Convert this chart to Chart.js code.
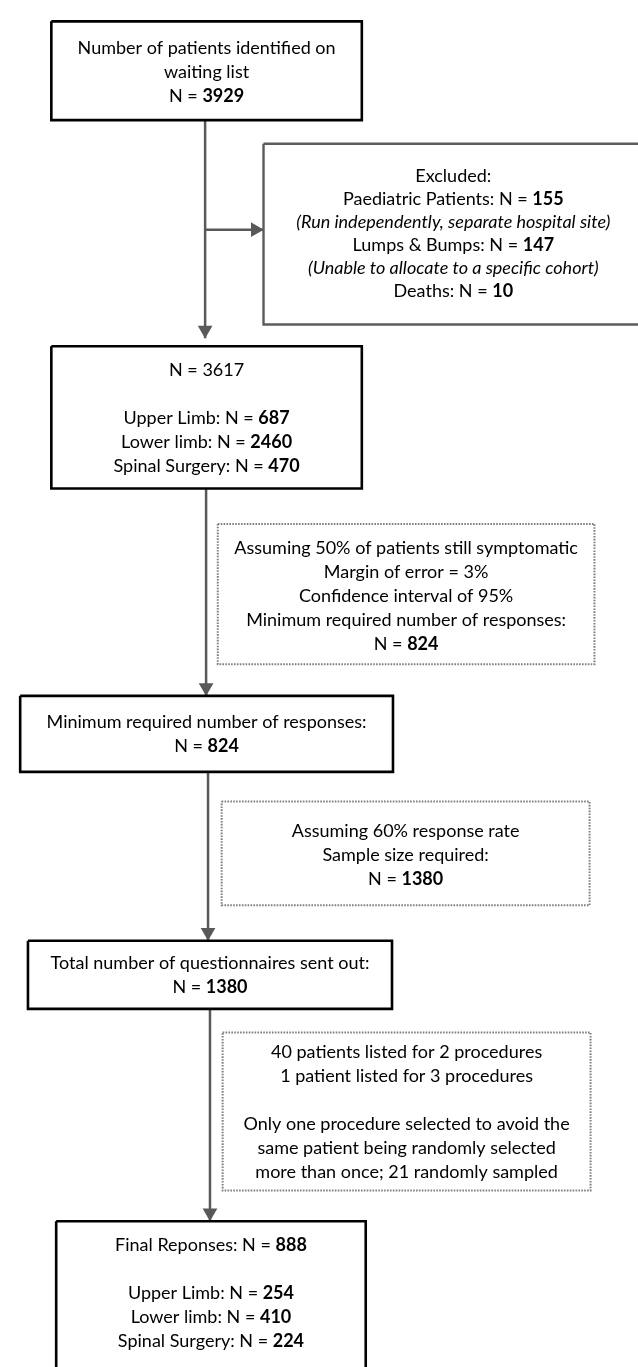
<!DOCTYPE html>
<html>
<head>
<meta charset="utf-8">
<script src="https://cdn.jsdelivr.net/npm/chart.js@4.4.1/dist/chart.umd.min.js"></script>
<style>
html, body { margin: 0; padding: 0; background: #fff; }
#wrap { width: 638px; height: 1367px; position: relative; }
</style>
</head>
<body>
<div id="wrap"><canvas id="flow"></canvas></div>
<script>
// --- flow data ---
const identifiedTotal = 3929;
const excludedGroups = ['Paediatric Patients', 'Lumps & Bumps', 'Deaths'];
const excludedCounts = [155, 147, 10];
const excludedNotes = ['(Run independently, separate hospital site)', '(Unable to allocate to a specific cohort)', null];
const eligibleTotal = 3617;
const cohortLabels = ['Upper Limb', 'Lower limb', 'Spinal Surgery'];
const eligibleCounts = [687, 2460, 470];
const symptomaticPct = 50;
const marginOfErrorPct = 3;
const confidencePct = 95;
const minResponses = 824;
const responseRatePct = 60;
const sampleSize = 1380;
const patientsTwoProcedures = 40;
const patientsThreeProcedures = 1;
const randomlySampled = 21;
const finalResponses = 888;
const finalCounts = [254, 410, 224];

// text lines, **x** = bold, leading "_" = italic
const identifiedLines = ['Number of patients identified on', 'waiting list', `N = **${identifiedTotal}**`];
const excludedLines = ['Excluded:'];
excludedGroups.forEach((g, i) => {
    excludedLines.push(`${g}: N = **${excludedCounts[i]}**`);
    if (excludedNotes[i]) excludedLines.push('_' + excludedNotes[i]);
});
const eligibleLines = [`N = ${eligibleTotal}`, ''].concat(cohortLabels.map((c, i) => `${c}: N = **${eligibleCounts[i]}**`));
const powerLines = [
    `Assuming ${symptomaticPct}% of patients still symptomatic`,
    `Margin of error = ${marginOfErrorPct}%`,
    `Confidence interval of ${confidencePct}%`,
    'Minimum required number of responses:',
    `N = **${minResponses}**`
];
const minLines = ['Minimum required number of responses:', `N = **${minResponses}**`];
const rateLines = [`Assuming ${responseRatePct}% response rate`, 'Sample size required:', `N = **${sampleSize}**`];
const sentLines = ['Total number of questionnaires sent out:', `N = **${sampleSize}**`];
const dupLines = [
    `${patientsTwoProcedures} patients listed for 2 procedures`,
    `${patientsThreeProcedures} patient listed for 3 procedures`,
    '',
    'Only one procedure selected to avoid the',
    'same patient being randomly selected',
    `more than once; ${randomlySampled} randomly sampled`
];
const finalLines = [`Final Reponses: N = **${finalResponses}**`, ''].concat(cohortLabels.map((c, i) => `${c}: N = **${finalCounts[i]}**`));

// --- layout (page units) ---
const boxes = [
    { x0: 44, x1: 363, y0: 13, y1: 113, kind: 'main', lines: identifiedLines, lh: 24, ty: 64 },
    { x0: 262, x1: 652, y0: 137, y1: 320, kind: 'excl', lines: excludedLines, lh: 23 },
    { x0: 44, x1: 363, y0: 342, y1: 486, kind: 'main', lines: eligibleLines, lh: 24, ty: 415 },
    { x0: 215, x1: 602, y0: 522, y1: 664, kind: 'note', lines: powerLines, lh: 24, ty: 595 },
    { x0: 12, x1: 395, y0: 696, y1: 773, kind: 'main', lines: minLines, lh: 24 },
    { x0: 219, x1: 597, y0: 803, y1: 908, kind: 'note', lines: rateLines, lh: 24, ty: 857 },
    { x0: 20, x1: 394, y0: 944, y1: 1013, kind: 'main', lines: sentLines, lh: 24 },
    { x0: 220, x1: 598, y0: 1037, y1: 1197, kind: 'note', lines: dupLines, lh: 24, ty: 1118 },
    { x0: 49, x1: 367, y0: 1228, y1: 1390, kind: 'main', lines: finalLines, lh: 24, ty: 1301 }
];
const connectors = [
    { from: [202, 113], to: [202, 334], dir: 'down' },
    { from: [202, 224], to: [262, 224], dir: 'right' },
    { from: [203, 486], to: [203, 696], dir: 'down' },
    { from: [205, 773], to: [205, 944], dir: 'down' },
    { from: [207, 1013], to: [207, 1228], dir: 'down' }
];

const styles = {
    main: { color: '#000', width: 2.6, dash: [] },
    excl: { color: '#5c5c5c', width: 2.4, dash: [] },
    note: { color: '#7f7f7f', width: 2, dash: [1.6, 1.3] }
};
const lineGray = '#595959';
const arrowR = 8.5;
const fontFamily = 'Lato, "Open Sans", sans-serif';
const fontSize = 18;

const datasets = [];
boxes.forEach(b => {
    const s = styles[b.kind];
    datasets.push({
        type: 'scatter', showLine: true,
        data: [{x: b.x0, y: b.y0}, {x: b.x1, y: b.y0}, {x: b.x1, y: b.y1}, {x: b.x0, y: b.y1}, {x: b.x0, y: b.y0}],
        borderColor: s.color, borderWidth: s.width, borderDash: s.dash,
        borderJoinStyle: 'miter', borderCapStyle: 'butt',
        pointRadius: 0, fill: false, tension: 0, clip: false
    });
});
connectors.forEach(c => {
    datasets.push({
        type: 'scatter', showLine: true,
        data: [{x: c.from[0], y: c.from[1]}, {x: c.to[0], y: c.to[1]}],
        borderColor: lineGray, borderWidth: 2.5, pointRadius: 0, clip: false
    });
    const head = c.dir === 'down' ? {x: c.to[0], y: c.to[1] - arrowR} : {x: c.to[0] - arrowR, y: c.to[1]};
    datasets.push({
        type: 'scatter', data: [head],
        pointStyle: 'triangle', pointRotation: c.dir === 'down' ? 180 : 90,
        pointRadius: arrowR, pointBackgroundColor: lineGray, pointBorderWidth: 0,
        clip: false
    });
});

function runsOf(line) {
    let italic = false;
    if (line.startsWith('_')) { italic = true; line = line.slice(1); }
    return line.split('**').map((t, i) => ({ t, bold: i % 2 === 1, italic }));
}
function fontFor(r) {
    return `${r.italic ? 'italic ' : ''}${r.bold ? 'bold ' : ''}${fontSize}px ${fontFamily}`;
}

const boxText = {
    id: 'boxText',
    afterDatasetsDraw(chart) {
        const ctx = chart.ctx;
        const xs = chart.scales.x, ys = chart.scales.y;
        ctx.save();
        ctx.fillStyle = '#000';
        ctx.textBaseline = 'middle';
        ctx.textAlign = 'left';
        boxes.forEach(b => {
            const cx = xs.getPixelForValue((b.x0 + b.x1) / 2);
            const cy = ys.getPixelForValue(b.ty !== undefined ? b.ty : (b.y0 + b.y1) / 2);
            const n = b.lines.length;
            b.lines.forEach((line, k) => {
                if (!line) return;
                const y = cy + (k - (n - 1) / 2) * b.lh;
                const runs = runsOf(line);
                let total = 0;
                runs.forEach(r => { ctx.font = fontFor(r); r.w = ctx.measureText(r.t).width; total += r.w; });
                let x = cx - total / 2;
                runs.forEach(r => { ctx.font = fontFor(r); ctx.fillText(r.t, x, y); x += r.w; });
            });
        });
        ctx.restore();
    }
};

new Chart(document.getElementById('flow'), {
    type: 'scatter',
    data: { datasets },
    options: {
        responsive: true,
        maintainAspectRatio: false,
        animation: false,
        events: [],
        layout: { padding: 0 },
        plugins: { legend: { display: false }, tooltip: { enabled: false } },
        scales: {
            x: { type: 'linear', min: 0, max: 638, display: false },
            y: { type: 'linear', min: 0, max: 1367, reverse: true, display: false }
        }
    },
    plugins: [boxText]
});
</script>
</body>
</html>
